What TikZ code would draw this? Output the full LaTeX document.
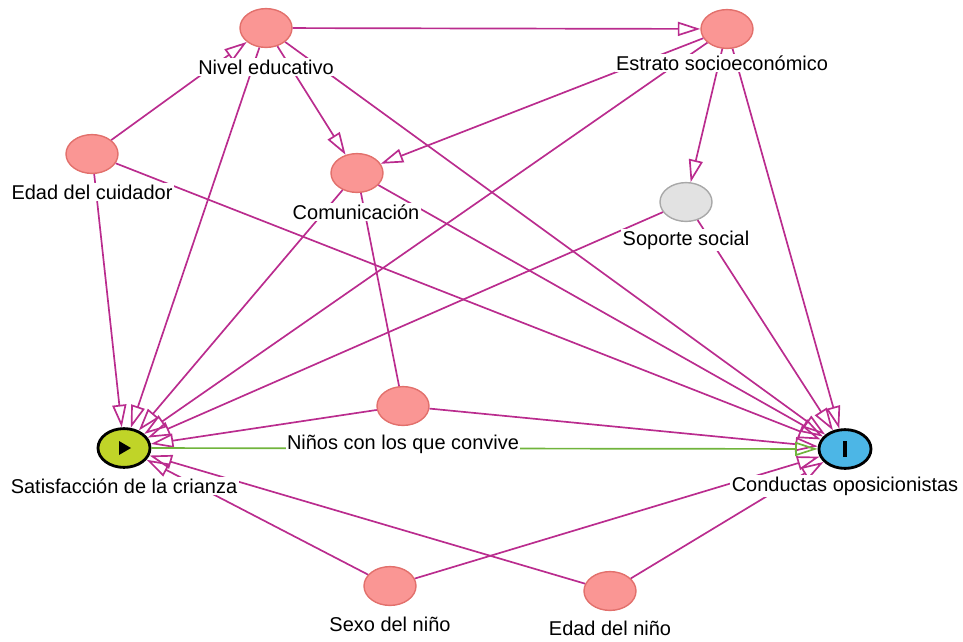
\documentclass[tikz,border=0pt]{standalone}
\usepackage{fontspec}
\setmainfont{Liberation Sans}
\usetikzlibrary{shapes.geometric,arrows.meta}

\definecolor{nodepink}{RGB}{250,150,148}
\definecolor{pinkline}{RGB}{226,112,108}
\definecolor{edgecol}{RGB}{186,44,142}
\definecolor{causalgreen}{RGB}{112,180,60}
\definecolor{expfill}{RGB}{192,212,40}
\definecolor{outfill}{RGB}{76,182,230}
\definecolor{greyfill}{RGB}{226,226,226}
\definecolor{greyline}{RGB}{168,168,168}

\begin{document}
\begin{tikzpicture}[x=0.025cm,y=-0.025cm,
    var/.style={ellipse, draw=pinkline, fill=nodepink, line width=1pt,
      minimum width=1.3cm, minimum height=0.97cm, inner sep=0pt},
    latentvar/.style={var, draw=greyline, fill=greyfill},
    exposure/.style={var, draw=black, fill=expfill, line width=2pt},
    outcome/.style={var, draw=black, fill=outfill, line width=2pt},
    edge/.style={draw=edgecol, line width=1.2pt,
      -{Triangle[open,length=16pt,width=10pt]}},
    causal/.style={edge, draw=causalgreen},
    lbl/.style={fill=white, inner sep=1pt, font=\fontsize{14.2}{16}\selectfont}]
  \useasboundingbox (0,0) rectangle (963,641);

  % variables
  \node[var] (nivel) at (266,28) {};
  \node[var] (estrato) at (727,29) {};
  \node[var] (edadcuid) at (92,154) {};
  \node[var] (comun) at (357,173) {};
  \node[latentvar] (soporte) at (686,202) {};
  \node[var] (ninos) at (403,406) {};
  \node[exposure] (satis) at (124,448) {};
  \node[outcome] (conduct) at (845,449) {};
  \node[var] (sexo) at (390,586) {};
  \node[var] (edadnino) at (610,591) {};

  \fill ([shift={(-5,-7)}]satis.center) -- ++(0,14) -- ++(12,-7) -- cycle;
  \fill ([shift={(-2,-8)}]conduct.center) rectangle ++(4,16);

  % arrows
  \draw[edge] (nivel) -- (estrato);
  \draw[edge] (nivel) -- (comun);
  \draw[edge] (nivel) -- (satis);
  \draw[edge] (nivel) -- (conduct);
  \draw[edge] (edadcuid) -- (nivel);
  \draw[edge] (edadcuid) -- (satis);
  \draw[edge] (edadcuid) -- (conduct);
  \draw[edge] (estrato) -- (comun);
  \draw[edge] (estrato) -- (soporte);
  \draw[edge] (estrato) -- (satis);
  \draw[edge] (estrato) -- (conduct);
  \draw[edge] (comun) -- (satis);
  \draw[edge] (comun) -- (conduct);
  \draw[draw=edgecol, line width=1.2pt] (comun) -- (ninos);
  \draw[edge] (soporte) -- (satis);
  \draw[edge] (soporte) -- (conduct);
  \draw[edge] (ninos) -- (satis);
  \draw[edge] (ninos) -- (conduct);
  \draw[edge] (sexo) -- (satis);
  \draw[edge] (sexo) -- (conduct);
  \draw[edge] (edadnino) -- (satis);
  \draw[edge] (edadnino) -- (conduct);
  \draw[causal] (satis) -- (conduct);

  % labels
  \node[lbl] (nivel-l) at (266,67) {Nivel educativo};
  \node[lbl] (estrato-l) at (722,63) {Estrato socioeconómico};
  \node[lbl] (edadcuid-l) at (92,192) {Edad del cuidador};
  \node[lbl] (comun-l) at (356,212) {Comunicación};
  \node[lbl] (soporte-l) at (686,240) {Soporte social};
  \node[lbl] (ninos-l) at (403,444) {Niños con los que convive};
  \node[lbl] (satis-l) at (124,486) {Satisfacción de la crianza};
  \node[lbl] (conduct-l) at (845,486) {Conductas oposicionistas};
  \node[lbl] (sexo-l) at (390,624) {Sexo del niño};
  \node[lbl] (edadnino-l) at (610,628) {Edad del niño};
\end{tikzpicture}
\end{document}
